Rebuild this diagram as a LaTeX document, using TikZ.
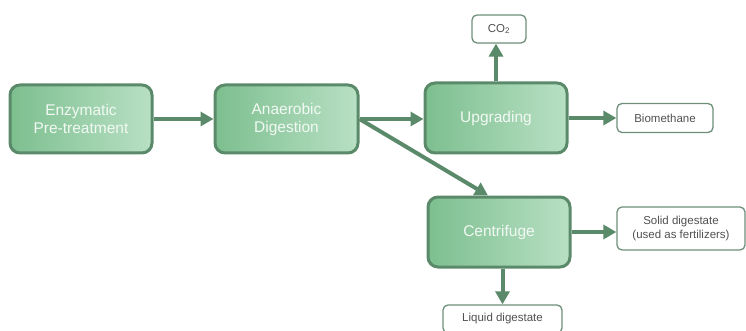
\documentclass[tikz,border=0pt]{standalone}
\usepackage{fontspec}
\setmainfont{Liberation Sans}
\usetikzlibrary{arrows.meta}
\definecolor{edgec}{HTML}{5B8A6A}
\definecolor{boxl}{HTML}{7DBF8F}
\definecolor{boxr}{HTML}{B8E0C4}
\definecolor{smalledge}{HTML}{6E8F7A}
\definecolor{txt}{HTML}{505050}
\definecolor{boxtxt}{HTML}{F2F9F4}
\begin{document}
\begin{tikzpicture}[x=1pt,y=-1pt]
\useasboundingbox (0,0) rectangle (746,331);
\tikzset{
  proc/.style={draw=edgec, line width=3pt, rounded corners=10pt, left color=boxl, right color=boxr,
    text=boxtxt, minimum width=142pt, minimum height=68pt, inner sep=0pt,
    font=\fontsize{15.5}{18}\selectfont, align=center},
  outbox/.style={draw=smalledge, line width=1.3pt, rounded corners=5pt, fill=white, text=txt,
    inner sep=0pt, font=\fontsize{11.5}{13.5}\selectfont, align=center},
  flow/.style={draw=edgec, line width=4pt, -{Triangle[length=13pt,width=14pt]}}
}
\node[proc] (en) at (81,119) {Enzymatic\\Pre-treatment};
\node[proc, minimum width=143pt] (an) at (286.5,119) {Anaerobic\\Digestion};
\node[proc, minimum height=70pt] (up) at (496,118) {Upgrading};
\node[proc, minimum height=70pt] (ce) at (499,232) {Centrifuge};
\node[outbox, minimum width=54pt, minimum height=28pt] (co2) at (499,29) {CO\textsubscript{2}};
\node[outbox, minimum width=96pt, minimum height=29pt] (bio) at (665,118) {Biomethane};
\node[outbox, minimum width=128pt, minimum height=43pt] (sol) at (681,228.5) {Solid digestate\\(used as fertilizers)};
\node[outbox, minimum width=119pt, minimum height=28pt] (liq) at (502.5,319) {Liquid digestate};
\draw[flow] (en.east) -- (an.west);
\draw[flow] (an.east) -- (up.west|-an.east);
\draw[flow] (an.east) -- ([xshift=-11pt]ce.north);
\draw[flow] (up.north) -- (up.north|-co2.south);
\draw[flow] (up.east) -- (up.east-|bio.west);
\draw[flow] (ce.east) -- (ce.east-|sol.west);
\draw[flow] (ce.south-|liq.north) -- (liq.north);
\end{tikzpicture}
\end{document}
